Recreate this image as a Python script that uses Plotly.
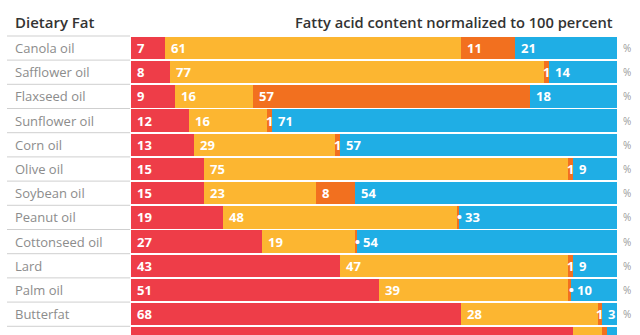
import plotly.graph_objects as go

fats = ["Canola oil", "Safflower oil", "Flaxseed oil", "Sunflower oil", "Corn oil",
        "Olive oil", "Soybean oil", "Peanut oil", "Cottonseed oil", "Lard",
        "Palm oil", "Butterfat", "Coconut oil"]
saturated = [7, 8, 9, 12, 13, 15, 15, 19, 27, 43, 51, 68, 91]
monounsaturated = [61, 77, 16, 16, 29, 75, 23, 48, 19, 47, 39, 28, 6]
omega3 = [11, 1, 57, 1, 1, 1, 8, 0.5, 0.5, 1, 0.5, 1, 1]
omega6 = [21, 14, 18, 71, 57, 9, 54, 33, 54, 9, 10, 3, 2]

series = [("Saturated", saturated, "#EE3D48"),
          ("Monounsaturated", monounsaturated, "#FCB631"),
          ("Omega-3", omega3, "#F2701F"),
          ("Omega-6", omega6, "#1FAEE5")]

FONT = "Open Sans"
fig = go.Figure()
for name, vals, col in series:
    fig.add_trace(go.Bar(y=fats, x=vals, name=name, orientation="h",
                         marker=dict(color=col, line=dict(width=0)),
                         hoverinfo="x+y"))

annotations = []
shapes = []
L, R = 131, 617
W = R - L
def px(x):
    return (x - L) / W

for i, f in enumerate(fats):
    cum = 0
    for name, vals, col in series:
        v = vals[i]
        if v < 1:
            txt, xa, xpos, sh = "•", "center", cum + v / 2, 2
        elif v < 3:
            txt, xa, xpos, sh = f"{v:g}", "center", cum + v / 2, 0
        else:
            txt, xa, xpos, sh = f"{v:g}", "left", cum, 4
        annotations.append(dict(x=xpos, y=f, xref="x", yref="y", text=f"<b>{txt}</b>",
                                showarrow=False, xanchor=xa, xshift=sh,
                                font=dict(family=FONT, size=13, color="white")))
        cum += v
    annotations.append(dict(x=px(13), y=f, xref="paper", yref="y", text=f,
                            showarrow=False, xanchor="left",
                            font=dict(family=FONT, size=13, color="#8c8c8c")))
    annotations.append(dict(x=1, y=f, xref="paper", yref="y", text="%",
                            showarrow=False, xanchor="left", xshift=4,
                            font=dict(family=FONT, size=10, color="#9a9a9a")))
    shapes.append(dict(type="line", xref="paper", yref="y", x0=px(7), x1=px(130),
                       y0=i + 0.5, y1=i + 0.5, line=dict(color="#cfcfcf", width=1)))

shapes.append(dict(type="line", xref="paper", yref="paper", x0=px(7), x1=px(130),
                   y0=1, y1=1, line=dict(color="#cfcfcf", width=1)))

annotations.append(dict(x=px(13), y=1 + 14 / 299, xref="paper", yref="paper",
                        text="Dietary Fat", showarrow=False, xanchor="left",
                        yanchor="middle",
                        font=dict(family=FONT, size=15, color="#333333", weight=600)))
annotations.append(dict(x=1, y=1 + 14 / 299, xref="paper", yref="paper",
                        text="Fatty acid content normalized to 100 percent",
                        showarrow=False, xanchor="right", yanchor="middle", xshift=-2,
                        font=dict(family=FONT, size=14.7, color="#333333", weight=600)))

fig.update_layout(
    barmode="stack", bargap=0.08,
    width=640, height=335,
    margin=dict(l=L, r=640 - R, t=36, b=0, pad=0),
    paper_bgcolor="white", plot_bgcolor="white",
    showlegend=False,
    xaxis=dict(range=[0, 100], visible=False, fixedrange=True),
    yaxis=dict(range=[11.86, -0.496], visible=False, fixedrange=True,
               categoryorder="array", categoryarray=fats),
    annotations=annotations, shapes=shapes,
)
fig.write_html("out.html")
